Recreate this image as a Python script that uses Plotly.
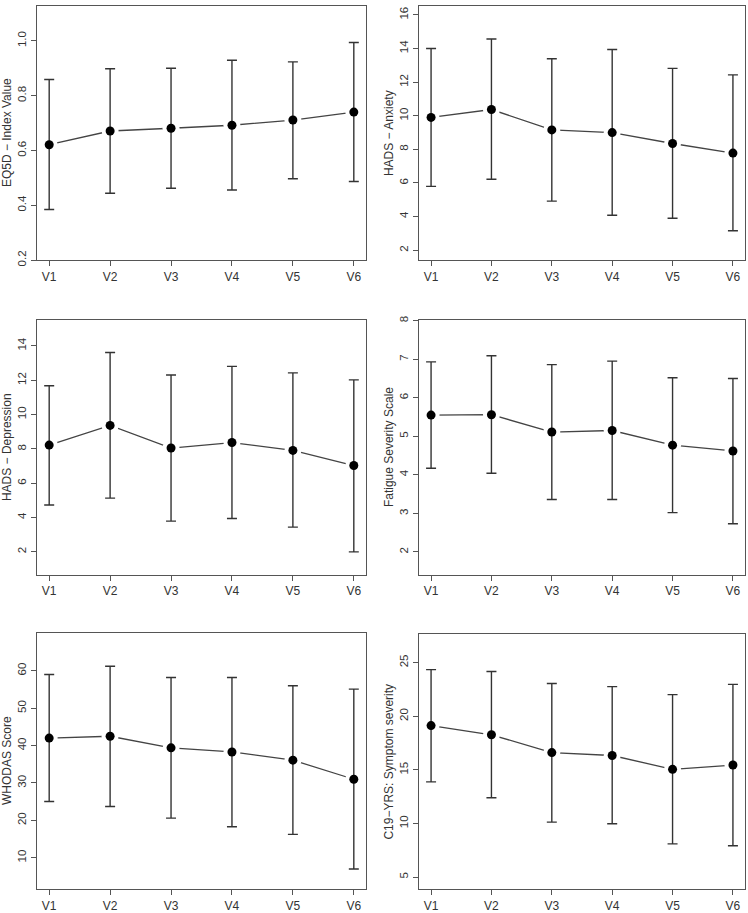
import plotly.graph_objects as go

visits = ["V1", "V2", "V3", "V4", "V5", "V6"]
xpos = [1, 2, 3, 4, 5, 6]

titles = ["EQ5D − Index Value", "HADS − Anxiety", "HADS − Depression",
          "Fatigue Severity Scale", "WHODAS Score", "C19−YRS: Symptom severity"]

eq5d_mean = [0.621, 0.671, 0.681, 0.692, 0.711, 0.740]
eq5d_hi = [0.859, 0.898, 0.900, 0.929, 0.923, 0.994]
eq5d_lo = [0.385, 0.444, 0.462, 0.456, 0.497, 0.487]

anx_mean = [9.90, 10.37, 9.16, 9.00, 8.35, 7.78]
anx_hi = [14.0, 14.57, 13.39, 13.94, 12.82, 12.43]
anx_lo = [5.80, 6.22, 4.92, 4.08, 3.90, 3.16]

dep_mean = [8.22, 9.37, 8.05, 8.37, 7.91, 7.03]
dep_hi = [11.68, 13.62, 12.31, 12.81, 12.43, 12.02]
dep_lo = [4.73, 5.13, 3.79, 3.94, 3.44, 2.00]

fss_mean = [5.55, 5.56, 5.11, 5.15, 4.77, 4.62]
fss_hi = [6.93, 7.09, 6.86, 6.95, 6.52, 6.50]
fss_lo = [4.17, 4.04, 3.36, 3.36, 3.02, 2.73]

who_mean = [42.0, 42.5, 39.4, 38.3, 36.1, 31.0]
who_hi = [59.0, 61.2, 58.2, 58.2, 56.0, 55.1]
who_lo = [25.05, 23.7, 20.6, 18.3, 16.25, 7.0]

c19_mean = [19.13, 18.27, 16.61, 16.34, 15.05, 15.45]
c19_hi = [24.35, 24.17, 23.06, 22.76, 22.02, 22.97]
c19_lo = [13.88, 12.40, 10.13, 9.98, 8.10, 7.92]

means = [eq5d_mean, anx_mean, dep_mean, fss_mean, who_mean, c19_mean]
his = [eq5d_hi, anx_hi, dep_hi, fss_hi, who_hi, c19_hi]
los = [eq5d_lo, anx_lo, dep_lo, fss_lo, who_lo, c19_lo]

yranges = [[0.2, 1.127], [1.41, 16.53], [0.67, 15.54], [1.41, 8.03], [1.6, 70.1], [3.87, 27.67]]
ytickvals = [[0.2, 0.4, 0.6, 0.8, 1.0], [2, 4, 6, 8, 10, 12, 14, 16], [2, 4, 6, 8, 10, 12, 14],
             [2, 3, 4, 5, 6, 7, 8], [10, 20, 30, 40, 50, 60], [5, 10, 15, 20, 25]]
yticktext = [["0.2", "0.4", "0.6", "0.8", "1.0"]] + [[str(v) for v in t] for t in ytickvals[1:]]

W, H = 748, 913
boxes = [  # left, right, top, bottom in px
    (37, 366, 2, 259), (419, 745, 2, 259),
    (37, 366, 319, 577), (419, 745, 319, 577),
    (37, 366, 636, 895), (419, 745, 637, 895),
]

fig = go.Figure()
layout = dict(width=W, height=H, margin=dict(l=0, r=0, t=0, b=0),
              paper_bgcolor="white", plot_bgcolor="white", showlegend=False,
              font=dict(family="Liberation Sans, Arial, sans-serif", color="#333"))
annotations = []
for i in range(6):
    k = "" if i == 0 else str(i + 1)
    xa, ya = "x" + k, "y" + k
    m, hi, lo = means[i], his[i], los[i]
    up = [h - v for h, v in zip(hi, m)]
    dn = [v - l for v, l in zip(m, lo)]
    fig.add_trace(go.Scatter(x=xpos, y=m, mode="lines", line=dict(color="#444", width=1.3),
                             xaxis=xa, yaxis=ya, hoverinfo="skip"))
    fig.add_trace(go.Scatter(x=xpos, y=m, mode="markers", marker=dict(color="white", size=17),
                             xaxis=xa, yaxis=ya, hoverinfo="skip"))
    fig.add_trace(go.Scatter(x=xpos, y=m, mode="markers", marker=dict(color="black", size=9),
                             error_y=dict(type="data", symmetric=False, array=up, arrayminus=dn,
                                          color="#333", thickness=1.4, width=5),
                             xaxis=xa, yaxis=ya))
    l, r, t, b = boxes[i]
    axcommon = dict(showgrid=False, zeroline=False, showline=True, mirror=True,
                    linecolor="#555", linewidth=1.2, ticks="outside", ticklen=5,
                    tickcolor="#555", tickwidth=1.2,
                    tickfont=dict(size=11.5, color="#333"))
    layout["xaxis" + k] = dict(axcommon, domain=[l / W, r / W], range=[0.8, 6.2],
                               tickvals=xpos, ticktext=visits, anchor=ya,
                               tickfont=dict(size=12, color="#333"))
    layout["yaxis" + k] = dict(axcommon, domain=[1 - b / H, 1 - t / H], range=yranges[i],
                               tickvals=ytickvals[i], ticktext=yticktext[i], anchor=xa,
                               tickangle=-90)
    annotations.append(dict(text=titles[i], textangle=-90, showarrow=False,
                            xref="paper", yref="paper",
                            x=(l - 30) / W, y=1 - (t + b) / 2 / H,
                            xanchor="center", yanchor="middle",
                            font=dict(size=12, color="#333")))
layout["annotations"] = annotations
fig.update_layout(**layout)
fig.write_html("out.html")
